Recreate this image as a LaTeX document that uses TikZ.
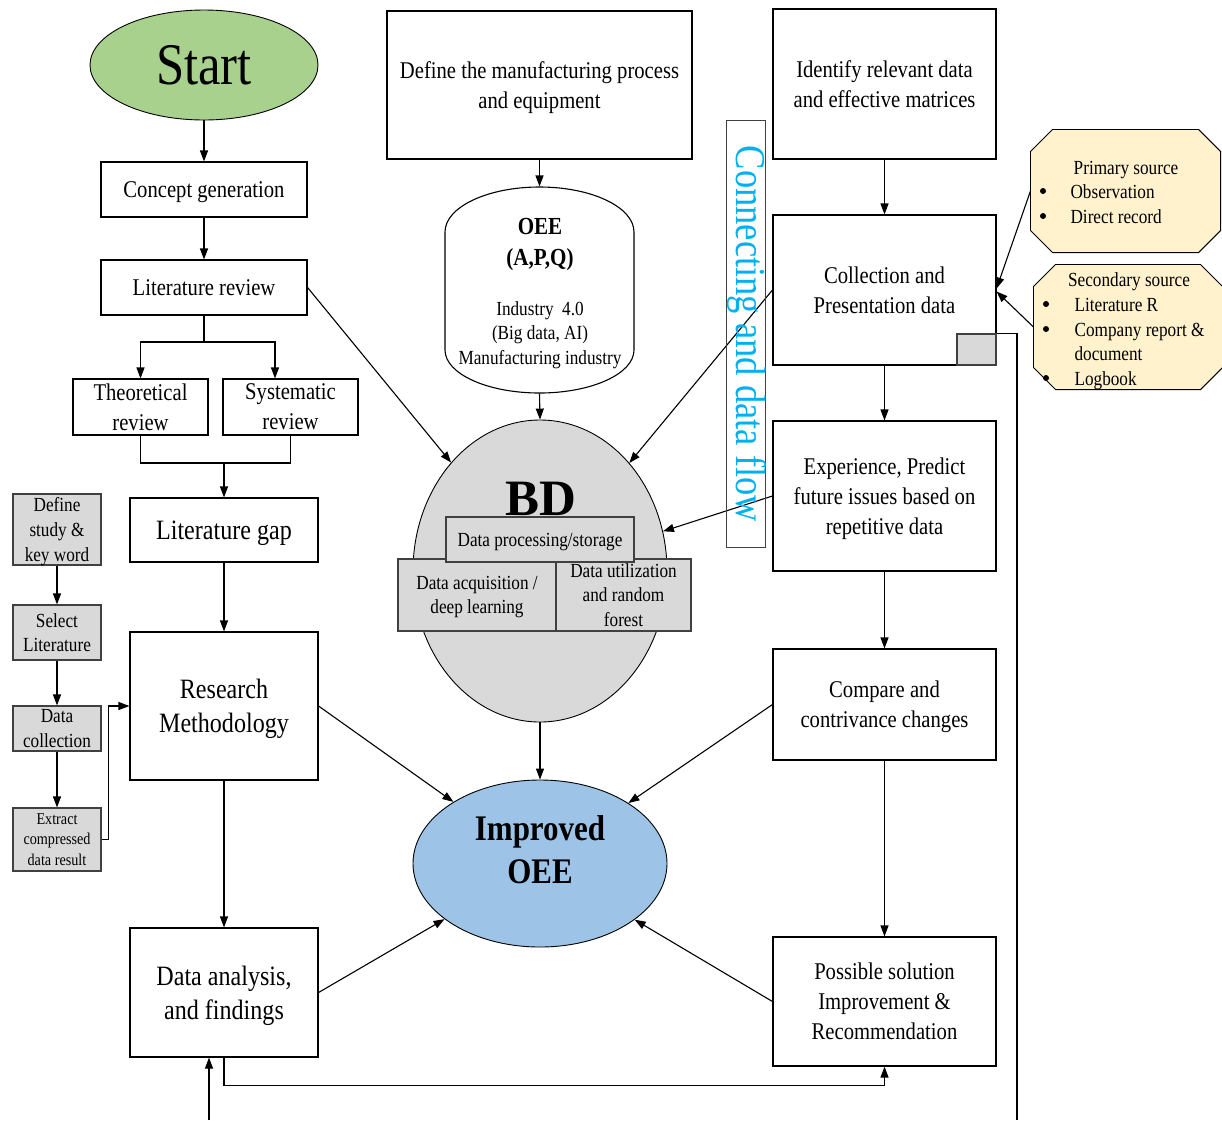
\documentclass[tikz,border=0pt]{standalone}
\usepackage{fontspec}
\setmainfont[FakeStretch=0.86]{Liberation Serif}
\newfontfamily\plainserif{Liberation Serif}
\usetikzlibrary{arrows.meta,shapes.geometric}
\definecolor{startgreen}{HTML}{A9D18E}
\definecolor{oeeblue}{HTML}{9DC3E6}
\definecolor{grayfill}{HTML}{D9D9D9}
\definecolor{notefill}{HTML}{FFF2CC}
\definecolor{flowcyan}{HTML}{00B0F0}

\begin{document}
\begin{tikzpicture}[x=1pt,y=-1pt,
  line width=1.1pt,
  arr/.style={-{Triangle[length=11pt,width=8pt]}},
  box/.style={draw, fill=white, inner sep=0pt, align=center, text depth=0pt},
  gbox/.style={draw=black!75, fill=grayfill, inner sep=0pt, align=center, text depth=0pt},
  plain/.style={inner sep=0pt, align=center},
  fsN/.style={font=\fontsize{24}{30}\selectfont},
  fsL/.style={font=\fontsize{28}{34}\selectfont},
  fsS/.style={font=\fontsize{20}{24.6}\selectfont},
  fsXS/.style={font=\fontsize{16.5}{20.5}\selectfont},
  blob/.style={ellipse, draw, line width=0.9pt, inner sep=0pt},
]
\useasboundingbox (0,0) rectangle (1222,1120);

% ---------- left main column ----------
\node[blob, fill=startgreen, minimum width=228, minimum height=110,
      font=\fontsize{59}{60}\selectfont] (start) at (204,65) {Start};
\node[box, fsN, minimum width=206, minimum height=55] (concept) at (204,189.5) {Concept generation};
\node[box, fsN, minimum width=206, minimum height=55] (litrev) at (204,287.5) {Literature review};
\node[box, fsN, minimum width=135, minimum height=56] (theo) at (140.5,407) {Theoretical\\review};
\node[box, fsN, minimum width=135, minimum height=56] (syst) at (290.5,407) {Systematic\\review};
\node[box, fsL, minimum width=188, minimum height=64] (gap) at (224,530) {Literature gap};
\node[box, fsL, minimum width=188, minimum height=148] (resm) at (224,706) {Research\\Methodology};
\node[box, fsL, minimum width=188, minimum height=129] (analysis) at (224,992.5) {Data analysis,\\and findings};

\draw[arr] (start) -- (concept);
\draw[arr] (concept) -- (litrev);
\coordinate (split) at (204,342);
\draw (litrev.south) -- (split);
\draw[arr] (split) -| (theo.north);
\draw[arr] (split) -| ([xshift=-15.5pt]syst.north);
\coordinate (merge) at (224,463);
\draw (theo.south) |- (merge) -| (syst.south);
\draw[arr] (merge) -- (gap.north);
\draw[arr] (gap) -- (resm);
\draw[arr] (resm) -- (analysis);

% ---------- literature search steps ----------
\node[gbox, fsS, minimum width=88, minimum height=71] (defst) at (57,529.5) {Define\\study \&\\key word};
\node[gbox, fsS, minimum width=88, minimum height=55] (sel) at (57,632.5) {Select\\Literature};
\node[gbox, fsS, minimum width=88, minimum height=45] (dcol) at (57,728.5) {Data\\collection};
\node[gbox, fsXS, minimum width=88, minimum height=63] (ext) at (57,839.5) {Extract\\compressed\\data result};
\draw[arr] (defst) -- (sel);
\draw[arr] (sel) -- (dcol);
\draw[arr] (dcol) -- (ext);
\draw[arr] (ext.east) -- ([xshift=7pt]ext.east) |- (resm.west);

% ---------- middle column ----------
\node[box, fsN, minimum width=305, minimum height=148] (mfg) at (539.5,85)
  {Define the manufacturing process\\and equipment};

% database drum
\draw[fill=white] (445,232) arc[start angle=180, end angle=0, x radius=94.5pt, y radius=45pt]
  -- (634,350) arc[start angle=0, end angle=-180, x radius=94.5pt, y radius=43pt] -- cycle;
\node[inner sep=0pt, minimum width=189, minimum height=206] (oee) at (539.5,290) {};
\node[plain, font=\fontsize{24.5}{31}\selectfont\bfseries] (oeetitle) at (540,244.5) {OEE\\(A,P,Q)};
\node[plain, fsS] (oeeinfo) at (540,335) {Industry\ \ 4.0\\(Big data, AI)\\Manufacturing industry};

\draw[arr] (mfg.south) -- (oee.north);

% big data hub
\node[blob, fill=grayfill, minimum width=254, minimum height=302] (bd) at (540,571) {};
\node[inner sep=0pt, anchor=base, font=\plainserif\fontsize{51}{52}\selectfont\bfseries] (bdlabel) at (541,515) {BD};
\node[gbox, fsS, minimum width=158, minimum height=72] (acq) at (477,595) {Data acquisition /\\deep learning};
\node[gbox, fsS, minimum width=135, minimum height=72] (util) at (623.5,595) {Data utilization\\and random\\forest};
\node[gbox, fsS, minimum width=188, minimum height=45] (proc) at (540,539.5) {Data processing/storage};
\draw[arr] (oee.south) -- (bd.north);

% result
\node[blob, fill=oeeblue, minimum width=254, minimum height=167] (improved) at (540,863.5) {};
\node[plain, font=\fontsize{36}{43}\selectfont\bfseries] (impl) at (540,849.5) {Improved\\OEE};
\draw[arr] (bd.south) -- (improved.north);

% ---------- right column ----------
\node[box, fsN, minimum width=223, minimum height=150] (ident) at (884.5,84) {Identify relevant data\\and effective matrices};
\node[box, fsN, minimum width=223, minimum height=150] (coll) at (884.5,290) {Collection and\\Presentation data};
\node[gbox, minimum width=39, minimum height=31] (tab) at (976.5,349.5) {};
\node[box, fsN, minimum width=223, minimum height=150] (exper) at (884.5,496) {Experience, Predict\\future issues based on\\repetitive data};
\node[box, fsN, minimum width=223, minimum height=111] (comp) at (884.5,704.5) {Compare and\\contrivance changes};
\node[box, fsN, minimum width=223, minimum height=129] (poss) at (884.5,1001.5) {Possible solution\\Improvement \&\\Recommendation};

\draw[arr] (ident) -- (coll);
\draw[arr] (coll.south) -- (exper.north);
\draw[arr] (exper) -- (comp);
\draw[arr] (comp) -- (poss);

% source notes
\node[inner sep=0pt, minimum width=189, minimum height=122] (prim) at (1125.5,191) {};
\node[inner sep=0pt, minimum width=188, minimum height=124] (sec) at (1128,327) {};
\foreach \n in {prim,sec}{
  \draw[fill=notefill, line width=0.9pt]
    ([xshift=22pt]\n.north west) -- ([xshift=-22pt]\n.north east) -- ([yshift=-22pt]\n.north east)
    -- ([yshift=22pt]\n.south east) -- ([xshift=-22pt]\n.south east) -- ([xshift=22pt]\n.south west)
    -- ([yshift=22pt]\n.south west) -- ([yshift=-22pt]\n.north west) -- cycle;
}
\node[fsS, inner sep=0pt, anchor=base] (primt) at (1126,174) {Primary source};
\node[fsS, inner sep=0pt, anchor=base west] (prim1) at (1070,198) {Observation};
\node[fsS, inner sep=0pt, anchor=base west] (prim2) at (1070,223) {Direct record};
\fill (1043,191) circle (3pt) (1043,216) circle (3pt);
\node[fsS, inner sep=0pt, anchor=base] (sect) at (1129,286) {Secondary source};
\node[fsS, inner sep=0pt, anchor=base west] (sec1) at (1074,311) {Literature R};
\node[fsS, inner sep=0pt, anchor=base west] (sec2) at (1074,336) {Company report \&};
\node[fsS, inner sep=0pt, anchor=base west] (sec3) at (1074,360) {document};
\node[fsS, inner sep=0pt, anchor=base west] (sec4) at (1074,385) {Logbook};
\fill (1046,304) circle (3pt) (1046,329) circle (3pt) (1046,378) circle (3pt);
\draw[arr] (prim.west) -- ([yshift=1.5pt]coll.east);
\draw[arr] (sec.west) -- ([yshift=-1.5pt]coll.east);

% ---------- links into the hubs ----------
\draw[arr] (litrev.east) -- (bd);
\draw[arr] (coll.west) -- (bd);
\draw[arr] (exper.west) -- (bd);
\draw[arr] (resm.east) -- (improved);
\draw[arr] (comp.west) -- (improved);
\draw[arr] (analysis.east) -- (improved);
\draw[arr] (poss.west) -- (improved);

% data flow band
\node[draw=black!75, line width=0.9pt, minimum width=39, minimum height=427, inner sep=0pt] (flow) at (745.5,333.5) {};
\node[rotate=-90, text=flowcyan, inner sep=0pt, font=\fontsize{42.5}{44}\selectfont] (flowtext) at (747,334) {Connecting and data flow};

% ---------- feedback lines ----------
\coordinate (outR) at (1017,1120);
\draw (tab.north east) -| (outR);
\coordinate (inL) at (209,1120);
\draw[arr] (inL) -- ([xshift=-15pt]analysis.south);
\draw[arr] (analysis.south) -- ++(0,28) -| (poss.south);
\end{tikzpicture}
\end{document}
